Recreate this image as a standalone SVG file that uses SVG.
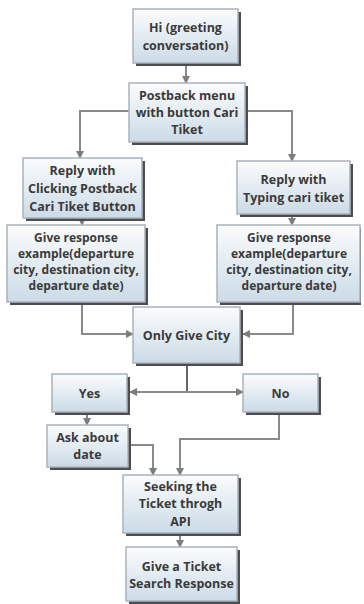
<svg xmlns="http://www.w3.org/2000/svg" width="364" height="604" viewBox="0 0 364 604">
<defs>
<linearGradient id="g" x1="0" y1="0" x2="0" y2="1">
<stop offset="0" stop-color="#fbfcfd"/>
<stop offset="1" stop-color="#cbdbe7"/>
</linearGradient>
<marker id="a" markerWidth="8" markerHeight="8" refX="7" refY="4" orient="auto" markerUnits="userSpaceOnUse">
<path d="M0,0 L8,4 L0,8 Z" fill="#7d7d7d"/>
</marker>
</defs>
<style>
.sh{fill:#4d4d4d}
.bx{fill:url(#g);stroke:#a9b3bc;stroke-width:1.5}
text{font-family:"Open Sans","Noto Sans",sans-serif;font-weight:bold;font-size:12.5px;fill:#3a3a3a;text-anchor:middle}
.s{font-size:12px}
.c{fill:none;stroke:#8a8a8a;stroke-width:2}
.ca{fill:none;stroke:#8a8a8a;stroke-width:2;marker-end:url(#a)}
</style>
<rect width="364" height="604" fill="#ffffff"/>
<g id="connectors">
<path class="ca" d="M186,66 V83"/>
<path class="ca" d="M129,111 H80 V158"/>
<path class="ca" d="M247,111 H292 V161"/>
<path class="ca" d="M82,221 V225"/>
<path class="ca" d="M292,217 V225"/>
<path class="ca" d="M82,305 V334 H133"/>
<path class="ca" d="M293,305 V334 H243"/>
<path class="c" d="M187,366 V392" style="stroke:#666"/>
<path class="ca" d="M187,392 H130"/>
<path class="ca" d="M187,392 H243"/>
<path class="ca" d="M87,415 V425"/>
<path class="ca" d="M131,445 H153 V475"/>
<path class="ca" d="M279,415 V439 H180 V475"/>
<path class="ca" d="M180,536 V547"/>
</g>
<g id="n1"><rect class="sh" x="136" y="12" width="105" height="54"/><rect class="bx" x="133" y="9" width="105" height="54"/><text x="185.5" y="32">Hi (greeting</text><text x="185.5" y="50">conversation)</text></g>
<g id="n2"><rect class="sh" x="132" y="86" width="116" height="59"/><rect class="bx" x="129" y="83" width="116" height="59"/><text x="187" y="100">Postback menu</text><text x="187" y="117">with button Cari</text><text x="187" y="134">Tiket</text></g>
<g id="n3"><rect class="sh" x="26" y="161" width="119" height="60"/><rect class="bx" x="23" y="158" width="119" height="60"/><text x="82.5" y="175">Reply with</text><text x="82.5" y="193">Clicking Postback</text><text x="82.5" y="211">Cari Tiket Button</text></g>
<g id="n4"><rect class="sh" x="240" y="164" width="113" height="53"/><rect class="bx" x="237" y="161" width="113" height="53"/><text x="293.5" y="184">Reply with</text><text x="293.5" y="202">Typing cari tiket</text></g>
<g id="n5"><rect class="sh" x="10" y="228" width="138" height="77"/><rect class="bx" x="7" y="225" width="138" height="77"/><text class="s" x="76" y="242">Give response</text><text class="s" x="76" y="258">example(departure</text><text class="s" x="76" y="274">city, destination city,</text><text class="s" x="76" y="290">departure date)</text></g>
<g id="n6"><rect class="sh" x="220" y="228" width="141" height="77"/><rect class="bx" x="217" y="225" width="143" height="77"/><text class="s" x="289" y="242">Give response</text><text class="s" x="289" y="258">example(departure</text><text class="s" x="289" y="274">city, destination city,</text><text class="s" x="289" y="290">departure date)</text></g>
<g id="n7"><rect class="sh" x="136" y="310" width="107" height="56"/><rect class="bx" x="133" y="307" width="107" height="56"/><text x="186.5" y="340">Only Give City</text></g>
<g id="n8"><rect class="sh" x="55" y="377" width="75" height="38"/><rect class="bx" x="52" y="374" width="75" height="38"/><text x="89.5" y="398">Yes</text></g>
<g id="n9"><rect class="sh" x="246" y="377" width="75" height="38"/><rect class="bx" x="243" y="374" width="75" height="38"/><text x="280.5" y="398">No</text></g>
<g id="n10"><rect class="sh" x="50" y="428" width="81" height="42"/><rect class="bx" x="47" y="425" width="81" height="42"/><text x="87.5" y="442">Ask about</text><text x="87.5" y="459">date</text></g>
<g id="n11"><rect class="sh" x="126" y="478" width="115" height="58"/><rect class="bx" x="123" y="475" width="115" height="58"/><text x="180.5" y="491">Seeking the</text><text x="180.5" y="508">Ticket throgh</text><text x="180.5" y="526">API</text></g>
<g id="n12"><rect class="sh" x="129" y="550" width="111" height="54"/><rect class="bx" x="126" y="547" width="111" height="54"/><text x="181.5" y="571">Give a Ticket</text><text x="181.5" y="588">Search Response</text></g>
</svg>
